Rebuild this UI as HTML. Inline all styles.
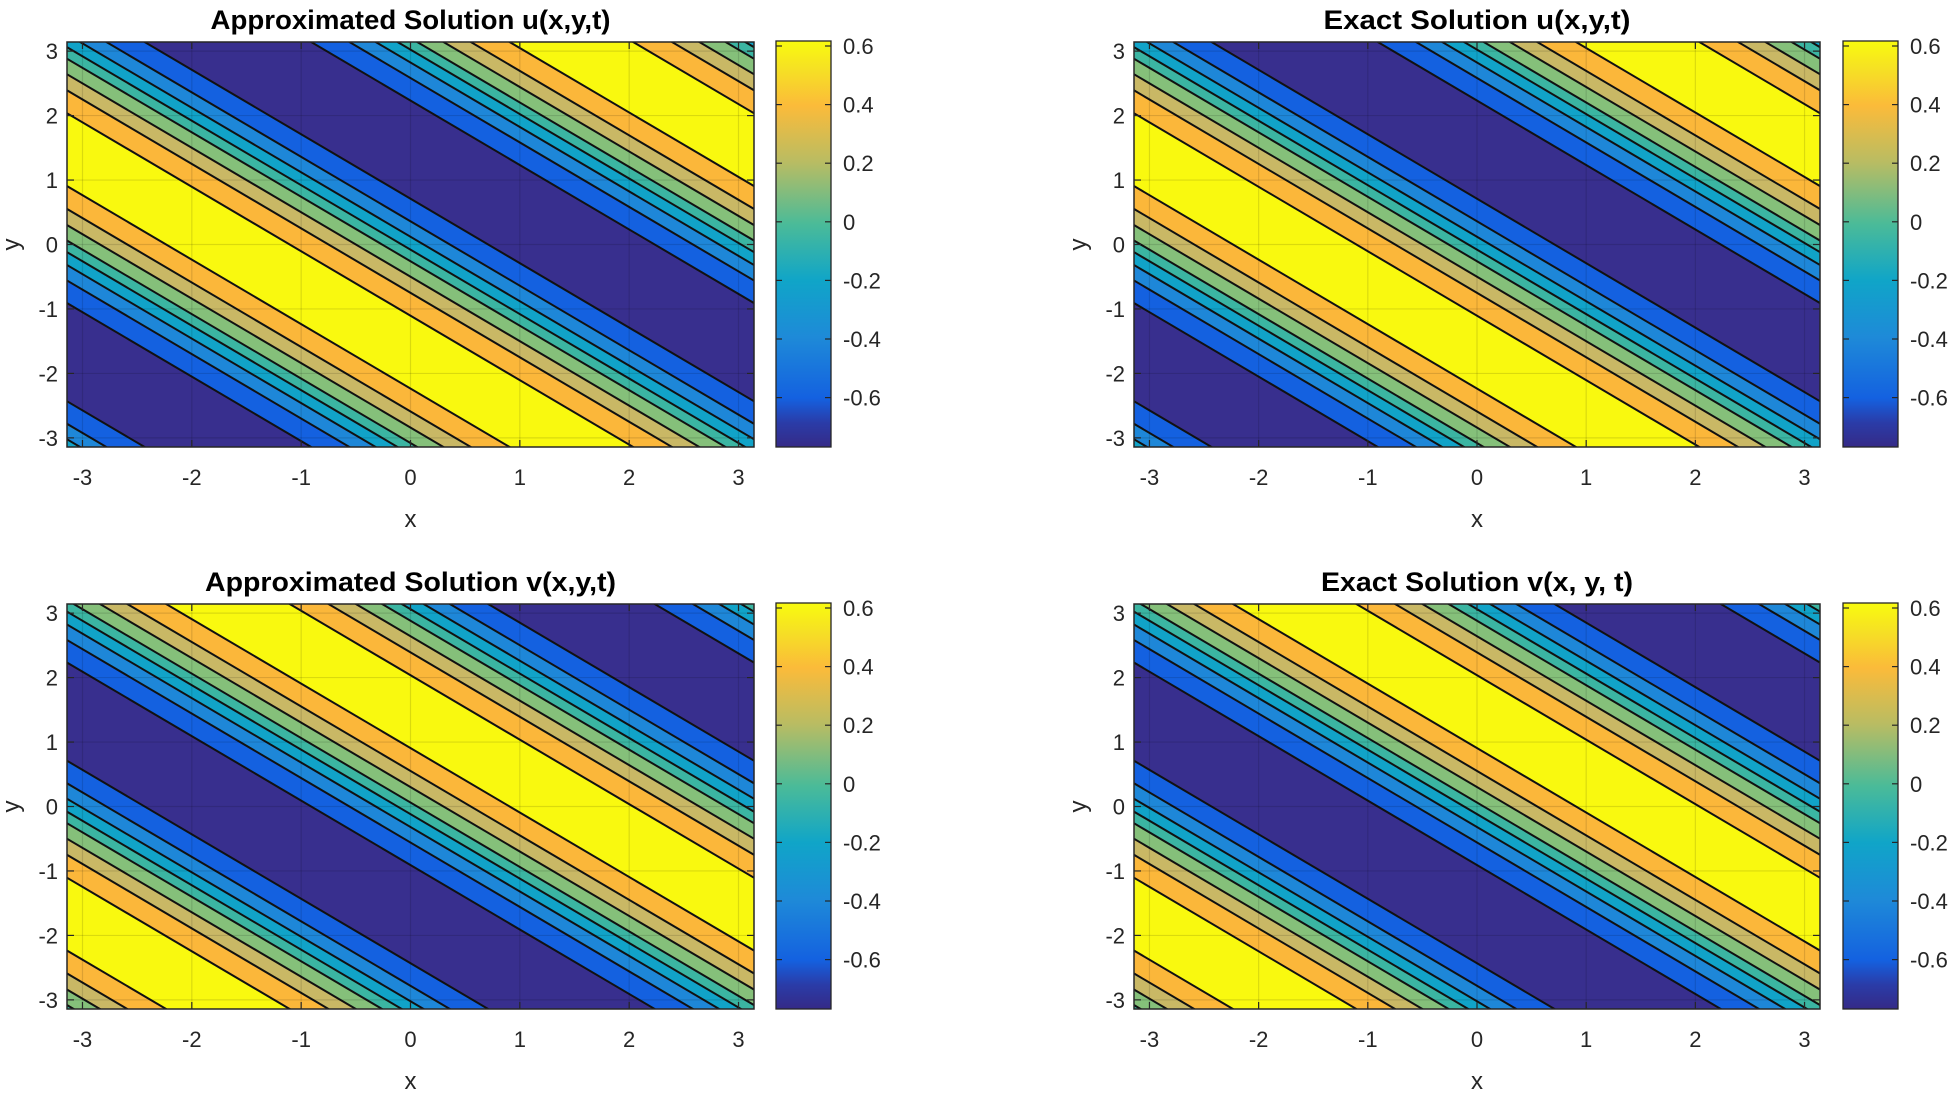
<!DOCTYPE html>
<html><head><meta charset="utf-8">
<style>
html,body{margin:0;padding:0;background:#fff;width:1950px;height:1097px;overflow:hidden;}
svg{display:block;}
text{font-family:"Liberation Sans",Arial,sans-serif;}
</style></head>
<body>
<svg id="s" width="1950" height="1097" viewBox="0 0 1950 1097" xmlns="http://www.w3.org/2000/svg" style="overflow:hidden">
<defs>
<linearGradient id="parula" x1="0" y1="1" x2="0" y2="0">
<stop offset="0" stop-color="#352a87"/>
<stop offset="0.06" stop-color="#2a3ca8"/>
<stop offset="0.12" stop-color="#1461e0"/>
<stop offset="0.27" stop-color="#1e8ad8"/>
<stop offset="0.41" stop-color="#10a5c8"/>
<stop offset="0.55" stop-color="#4bbb98"/>
<stop offset="0.70" stop-color="#b8bc63"/>
<stop offset="0.84" stop-color="#fbbb3a"/>
<stop offset="0.93" stop-color="#f6e024"/>
<stop offset="1" stop-color="#f9fb0e"/>
</linearGradient>
</defs>
</svg>
<script>
(function(){
var svg=document.getElementById('s');var NS='http://www.w3.org/2000/svg';
function el(t,a,p){var e=document.createElementNS(NS,t);for(var k in a)e.setAttribute(k,a[k]);(p||svg).appendChild(e);return e;}
function txt(s,a,p){var e=el('text',a,p);e.textContent=s;return e;}
var B=[0.565,0.92,1.17,1.41,1.59,1.79,2.03,2.38];
var C=['#f9f90f','#fbb73a','#c9b865','#85c07a','#3bb5a2','#11a3c8','#1e87d8','#1461e0','#382f8e'];
var P=2*Math.PI;
var plots=[
 {L:67,R:754,T:42,Bt:447,sc:-1.67,title:'Approximated Solution u(x,y,t)',tw:400,cb:776},
 {L:1134,R:1820,T:42,Bt:447,sc:-1.67,title:'Exact Solution u(x,y,t)',tw:307,cb:1843},
 {L:67,R:754,T:604,Bt:1009,sc:-1.67+Math.PI,title:'Approximated Solution v(x,y,t)',tw:411,cb:776},
 {L:1134,R:1820,T:604,Bt:1009,sc:-1.67+Math.PI,title:'Exact Solution v(x, y, t)',tw:312,cb:1843}
];
plots.forEach(function(p,i){
 var W=p.R-p.L,H=p.Bt-p.T;
 // local coords inside nested svg
 function X(x){return (x+Math.PI)/P*W;}
 function Y(y){return H-(y+Math.PI)/P*H;}
 var g=el('svg',{x:p.L,y:p.T,width:W,height:H,viewBox:'0 0 '+W+' '+H,overflow:'hidden'});
 el('rect',{x:0,y:0,width:W,height:H,fill:C[8]},g);
 function band(a,b,col){
  var x1=-8,x2=8;
  var pts=[[x1,a-x1],[x2,a-x2],[x2,b-x2],[x1,b-x1]].map(function(q){return X(q[0]).toFixed(1)+','+Y(q[1]).toFixed(1);}).join(' ');
  el('polygon',{points:pts,fill:col},g);
 }
 var lines=[];
 for(var k=-2;k<=2;k++){
  var c=p.sc+k*P;
  for(var j=7;j>=0;j--){ band(c-B[j],c+B[j],C[j]); }
  for(var j=0;j<8;j++){lines.push(c-B[j]);lines.push(c+B[j]);}
 }
 lines.forEach(function(s){
  el('line',{x1:X(-8),y1:Y(s+8),x2:X(8),y2:Y(s-8),stroke:'#111','stroke-width':2},g);
 });
 for(var t=-3;t<=3;t++){
  el('line',{x1:X(t),y1:0,x2:X(t),y2:H,stroke:'#000','stroke-opacity':0.12,'stroke-width':1.2},g);
  el('line',{x1:0,y1:Y(t),x2:W,y2:Y(t),stroke:'#000','stroke-opacity':0.12,'stroke-width':1.2},g);
  var gx=p.L+X(t),gy=p.T+Y(t);
  el('line',{x1:gx,y1:p.Bt,x2:gx,y2:p.Bt-7,stroke:'#262626','stroke-width':1.2});
  el('line',{x1:gx,y1:p.T,x2:gx,y2:p.T+7,stroke:'#262626','stroke-width':1.2});
  el('line',{x1:p.L,y1:gy,x2:p.L+7,y2:gy,stroke:'#262626','stroke-width':1.2});
  el('line',{x1:p.R,y1:gy,x2:p.R-7,y2:gy,stroke:'#262626','stroke-width':1.2});
  txt(String(t),{x:gx,y:p.Bt+38,'font-size':22,fill:'#262626','text-anchor':'middle'});
  txt(String(t),{x:p.L-9,y:gy+8,'font-size':22,fill:'#262626','text-anchor':'end'});
 }
 el('rect',{x:p.L,y:p.T,width:W,height:H,fill:'none',stroke:'#262626','stroke-width':1.5});
 txt('x',{x:(p.L+p.R)/2,y:p.Bt+80,'font-size':24,fill:'#262626','text-anchor':'middle'});
 var yx=p.L-48,yy=(p.T+p.Bt)/2;
 txt('y',{x:yx,y:yy,'font-size':24,fill:'#262626','text-anchor':'middle',transform:'rotate(-90 '+yx+' '+yy+')'});
 txt(p.title,{x:(p.L+p.R)/2-p.tw/2,y:p.T-13,'font-size':27,'font-weight':'bold',fill:'#000',textLength:p.tw,lengthAdjust:'spacingAndGlyphs'});
 el('rect',{x:p.cb,y:p.T-1,width:55,height:H+1,fill:'url(#parula)',stroke:'#262626','stroke-width':1.3});
 var yv0=p.T+4,per=58.6;
 [0.6,0.4,0.2,0,-0.2,-0.4,-0.6].forEach(function(v,n){
  var yy2=yv0+n*per;
  el('line',{x1:p.cb+55,y1:yy2,x2:p.cb+49,y2:yy2,stroke:'#262626','stroke-width':1.2});
  el('line',{x1:p.cb,y1:yy2,x2:p.cb+6,y2:yy2,stroke:'#262626','stroke-width':1.2});
  txt(v===0?'0':String(v),{x:p.cb+67,y:yy2+8,'font-size':22,fill:'#262626'});
 });
});
})();
</script>
</body></html>
